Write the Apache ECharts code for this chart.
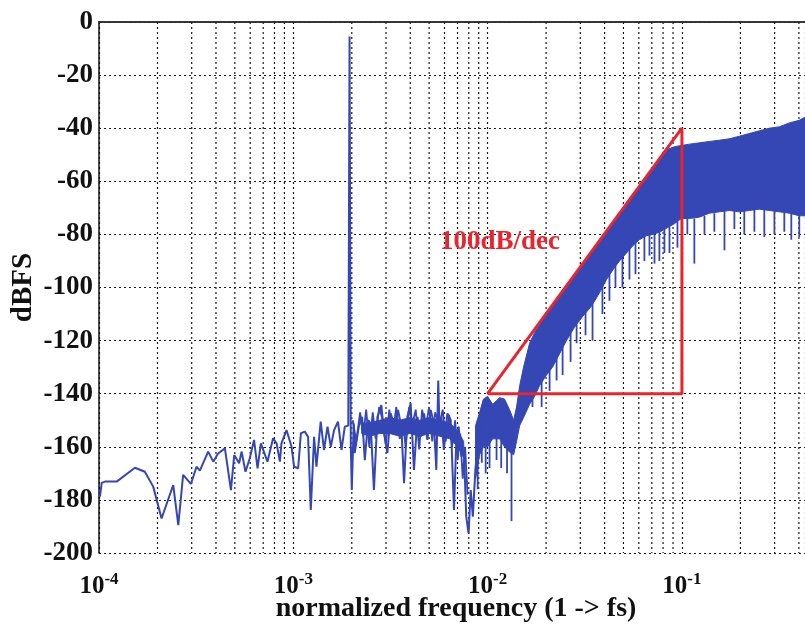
<!DOCTYPE html>
<html><head><meta charset="utf-8">
<script src="https://cdn.jsdelivr.net/npm/echarts@6/dist/echarts.min.js"></script>
<style>html,body{margin:0;padding:0;background:#fff}#c{width:805px;height:625px}</style>
</head><body><div id="c"></div>
<script>
// Low-frequency noise trace: log10(frequency) and level (dBFS)
const lowFreqExp = [-3.995,-3.986,-3.969,-3.909,-3.815,-3.764,-3.721,-3.678,-3.618,-3.592,-3.567,-3.527,-3.498,-3.481,-3.438,-3.412,-3.387,-3.352,-3.321,-3.304,-3.279,-3.266,-3.246,-3.224,-3.202,-3.184,-3.167,-3.133,-3.104,-3.086,-3.069,-3.061,-3.035,-3.009,-2.996,-2.975,-2.961,-2.941,-2.924,-2.910,-2.893,-2.881,-2.859,-2.842,-2.824,-2.807,-2.790,-2.770,-2.752,-2.735,-2.717,-2.7105,-2.704,-2.699,-2.689,-2.684,-2.663,-2.646,-2.632,-2.615,-2.602,-2.585,-2.567,-2.547,-2.533,-2.516,-2.499,-2.478,-2.461,-2.444,-2.430,-2.413,-2.396,-2.379,-2.361,-2.344,-2.327,-2.310,-2.293,-2.276,-2.264,-2.254,-2.247,-2.238,-2.225,-2.207,-2.190,-2.173,-2.161,-2.149,-2.135,-2.122,-2.110,-2.098,-2.087,-2.076,-2.063,-2.050,-2.032,-2.019];
const lowLevel = [-178.8,-173.6,-173.1,-173.1,-167.9,-169.4,-175,-187,-174.4,-189.5,-170.6,-174,-167.5,-169,-161.8,-165.6,-162.5,-160.6,-176.3,-163.1,-166.2,-161.8,-169.4,-164.3,-157.4,-168.1,-158.7,-165.6,-156.8,-158.7,-165.6,-158.7,-153.7,-160,-167.5,-168.1,-154.9,-154.3,-156.2,-183.8,-156.2,-167.5,-150.5,-161.2,-152.4,-160,-153.7,-150.5,-161.2,-152.4,-152,-5.5,-160,-176.3,-151.2,-162.4,-152.4,-148.7,-165,-149.9,-151.2,-176.3,-148.7,-144.3,-154.9,-162.4,-147.4,-152.4,-146.1,-152.4,-173.7,-148.7,-143.6,-168.7,-148.7,-156.2,-147.4,-157.4,-146.1,-151.2,-168.7,-135,-155,-148.7,-161.2,-147.4,-149.9,-183.8,-157.4,-152.4,-163.7,-161.2,-186.3,-192.6,-176.3,-186.3,-168.7,-158.7,-146.1,-142.4];

// Extra dense noise strands between 2e-3 and 1e-2: log10(frequency), level (dBFS)
const midNoiseExp = [-2.694,-2.676,-2.656,-2.640,-2.625,-2.609,-2.591,-2.576,-2.558,-2.540,-2.524,-2.506,-2.488,-2.470,-2.452,-2.437,-2.422,-2.404,-2.388,-2.370,-2.352,-2.337,-2.319,-2.301,-2.285,-2.270,-2.249,-2.231,-2.216,-2.198,-2.183,-2.167,-2.154,-2.141,-2.128,-2.116,-2.103];
const midNoise = [-150,-158,-147,-156,-146,-160,-147,-157,-145,-150,-159,-146,-155,-145,-157,-150,-160,-145,-152,-146,-161,-146,-153,-145,-158,-147,-152,-146,-158,-148,-160,-150,-165,-155,-172,-160,-178];

// Dense core of that noise: log10(frequency), upper / lower (dBFS)
const midFreqExp = [-2.648,-2.607,-2.555,-2.504,-2.452,-2.401,-2.350,-2.298,-2.247,-2.195,-2.154,-2.123];
const midUpper = [-151,-151,-150,-149,-150,-149,-150,-149,-150,-151,-154,-158];
const midLower = [-155,-156,-155,-155,-156,-155,-156,-155,-156,-157,-160,-164];

// Dense noise band above 1e-2: log10(frequency), upper and lower envelopes (dBFS)
const bandFreqExp = [-2.062,-2.041,-2.021,-2.000,-1.974,-1.938,-1.913,-1.887,-1.866,-1.851,-1.835,-1.815,-1.784,-1.758,-1.733,-1.697,-1.666,-1.630,-1.594,-1.553,-1.512,-1.465,-1.424,-1.388,-1.352,-1.321,-1.285,-1.249,-1.219,-1.183,-1.147,-1.111,-1.075,-1.039,-1.003,-0.961,-0.910,-0.859,-0.807,-0.756,-0.704,-0.653,-0.602,-0.550,-0.499,-0.447,-0.396,-0.344];
const bandUpper = [-152,-147,-142,-141,-144,-141.5,-142,-146,-150,-145,-137,-130,-121,-117,-114,-110,-107,-103,-99.4,-95.3,-91.2,-86.5,-82.4,-78.8,-75.2,-72.1,-68.5,-64.9,-61.9,-58.3,-54.7,-51.1,-48,-47,-46.5,-46,-45.5,-45,-44.5,-44,-43,-42,-41,-40,-39.5,-38,-37,-35];
const bandLower = [-172,-163,-160,-160,-157,-157,-160,-162,-163,-158,-152,-149,-144,-141,-137,-133,-130,-125,-120,-115,-111,-107,-102,-97,-93,-90,-87,-84,-82,-80.5,-80,-79,-77.5,-76,-74,-74,-73.5,-72,-71.5,-71,-71.5,-71,-70.5,-71,-71.5,-72,-73,-73];

// Downward spikes below the band: log10(frequency), top and bottom (dBFS)
const spikeFreqExp = [-2.051,-2.030,-2.010,-1.990,-1.954,-1.930,-1.900,-1.877,-1.769,-1.722,-1.681,-1.645,-1.614,-1.573,-1.542,-1.496,-1.460,-1.409,-1.373,-1.342,-1.306,-1.270,-1.239,-1.193,-1.167,-1.141,-1.116,-1.090,-1.064,-1.023,-0.972,-0.936,-0.884,-0.833,-0.781,-0.730,-0.679,-0.627,-0.576,-0.524,-0.473,-0.437,-0.396];
const spikeTop = [-165,-158,-156,-155,-155,-155,-158,-158,-140,-134,-128,-124,-120,-115,-112,-108,-105,-98,-94,-91,-88,-85,-83,-80,-80,-79,-79,-78,-77,-75,-74,-74,-73,-72,-71,-71,-71,-70,-70,-71,-71,-72,-72];
const spikeBottom = [-176,-166,-170,-168,-165,-168,-170,-188,-145,-145,-139,-135,-133,-128,-121,-118,-120,-110,-105,-100,-100,-97,-95,-90,-88,-91,-90,-87,-87,-85,-80,-91,-80,-79,-86,-78,-80,-79,-81,-80,-79,-82,-81];

// 100 dB/decade reference triangle
const triFreq = [0.01, 0.1, 0.1, 0.01];
const triLevel = [-140, -40, -140, -140];

const BLUE = '#3447b4';
const RED = '#e8242c';
const SERIF = '"Liberation Serif","Times New Roman",serif';

const toF = e => Math.pow(10, e);
const lowData = lowFreqExp.map((e, i) => [toF(e), lowLevel[i]]);
const midNoiseData = midNoiseExp.map((e, i) => [toF(e), midNoise[i]]);
const midF = midFreqExp.map(toF);
const bandF = bandFreqExp.map(toF);
const spikeData = spikeFreqExp.map((e, i) => [toF(e), spikeTop[i], spikeBottom[i]]);
const triData = triFreq.map((f, i) => [f, triLevel[i]]);

// minor grid positions 2..9 x 10^n (axis decoration)
const minorGrid = [];
for (let d = -4; d <= -1; d++) for (let m = 2; m <= 9; m++) {
  const v = m * Math.pow(10, d);
  if (v < 0.43) minorGrid.push([v, 0, -200]);
}
const DOT = [2, 3];
const dotted = {color: '#1a1a1a', width: 1.2, type: DOT};

function bandRenderer(freqs, up, lo) {
  return (params, api) => {
    if (params.dataIndex !== 0) return null;
    const pts = [];
    for (let i = 0; i < freqs.length; i++) pts.push(api.coord([freqs[i], up[i]]));
    for (let i = freqs.length - 1; i >= 0; i--) pts.push(api.coord([freqs[i], lo[i]]));
    return {type: 'polygon', shape: {points: pts}, style: {fill: BLUE, stroke: BLUE, lineWidth: 1}};
  };
}

const chart = echarts.init(document.getElementById('c'), null, {renderer: 'canvas'});
chart.setOption({
  animation: false,
  backgroundColor: '#fff',
  grid: {left: 99, right: 0, top: 22, bottom: 72, containLabel: false, outerBoundsMode: 'none'},
  xAxis: [{
    type: 'log', logBase: 10, min: 1e-4, max: 0.43,
    name: 'normalized frequency (1 -> fs)', nameLocation: 'middle', nameGap: 42, nameMoveOverlap: false,
    nameTextStyle: {fontFamily: SERIF, fontWeight: 'bold', fontSize: 28, color: '#111', padding: [0,0,0,8]},
    axisLine: {lineStyle: {color: '#111', width: 1.5}},
    axisTick: {show: false},
    splitLine: {show: true, lineStyle: dotted},
    axisLabel: {
      margin: 18,
      formatter: v => {
        const e = Math.log10(v);
        if (Math.abs(e - Math.round(e)) > 1e-6) return '';
        return '{b|10}{s|' + Math.round(e) + '}';
      },
      rich: {
        b: {fontFamily: SERIF, fontWeight: 'bold', fontSize: 25, color: '#111'},
        s: {fontFamily: SERIF, fontWeight: 'bold', fontSize: 17, color: '#111', verticalAlign: 'top', padding: [0,0,14,0]}
      }
    }
  }, {
    type: 'log', position: 'top', min: 1e-4, max: 0.43,
    axisLine: {lineStyle: {color: '#333', width: 1.5}},
    axisTick: {show: false}, axisLabel: {show: false}, splitLine: {show: false}
  }],
  yAxis: {
    type: 'value', min: -200, max: 0, interval: 20,
    name: 'dBFS', nameLocation: 'middle', nameGap: 61, nameRotate: 90, nameMoveOverlap: false,
    nameTextStyle: {fontFamily: SERIF, fontWeight: 'bold', fontSize: 29, color: '#111'},
    axisLine: {show: true, lineStyle: {color: '#111', width: 1.5}},
    axisTick: {show: false},
    splitLine: {show: true, lineStyle: dotted},
    axisLabel: {fontFamily: SERIF, fontWeight: 'bold', fontSize: 27, color: '#111', margin: 6}
  },
  series: [
    {
      type: 'custom', z: 1, silent: true, clip: true,
      data: minorGrid, encode: {x: 0, y: [1, 2]},
      renderItem: (params, api) => {
        const a = api.coord([api.value(0), api.value(1)]);
        const b = api.coord([api.value(0), api.value(2)]);
        return {type: 'line', shape: {x1: a[0], y1: a[1], x2: b[0], y2: b[1]},
          style: {stroke: '#1a1a1a', lineWidth: 1.2, lineDash: DOT}};
      }
    },
    {
      type: 'custom', z: 3, clip: true,
      data: midF.map((f, i) => [f, midUpper[i], midLower[i]]),
      encode: {x: 0, y: [1, 2]},
      renderItem: bandRenderer(midF, midUpper, midLower)
    },
    {
      type: 'line', data: lowData, showSymbol: false, symbol: 'none', z: 3,
      lineStyle: {color: BLUE, width: 2}
    },
    {
      type: 'line', data: midNoiseData, showSymbol: false, symbol: 'none', z: 3,
      lineStyle: {color: BLUE, width: 1.8}
    },
    {
      type: 'custom', z: 3, clip: true,
      data: bandF.map((f, i) => [f, bandUpper[i], bandLower[i]]),
      encode: {x: 0, y: [1, 2]},
      renderItem: bandRenderer(bandF, bandUpper, bandLower)
    },
    {
      type: 'custom', z: 3, clip: true,
      data: spikeData,
      encode: {x: 0, y: [1, 2]},
      renderItem: (params, api) => {
        const a = api.coord([api.value(0), api.value(1)]);
        const b = api.coord([api.value(0), api.value(2)]);
        return {type: 'line', shape: {x1: a[0], y1: a[1], x2: b[0], y2: b[1]}, style: {stroke: BLUE, lineWidth: 1.8}};
      }
    },
    {
      type: 'line', data: triData, showSymbol: false, symbol: 'none', z: 5,
      lineStyle: {color: RED, width: 3}
    }
  ],
  graphic: [{
    type: 'text', left: 440, top: 229, z: 10,
    style: {text: '100dB/dec', fill: RED, font: 'bold 27px ' + SERIF}
  }]
});
</script></body></html>
